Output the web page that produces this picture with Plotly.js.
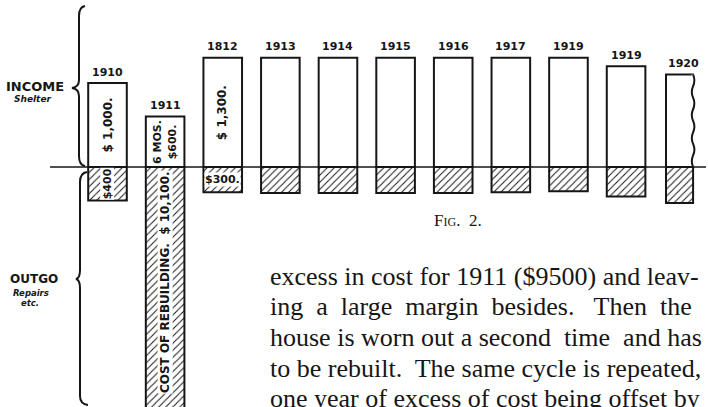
<!DOCTYPE html>
<html>
<head>
<meta charset="utf-8">
<script src="https://cdn.plot.ly/plotly-3.0.1.min.js"></script>
<style>html,body{margin:0;padding:0;background:#fff;}#chart{width:708px;height:407px;}</style>
</head>
<body>
<div id="chart"></div>
<script>
// ---- data ----
const years = [1910, 1911, 1912, 1913, 1914, 1915, 1916, 1917, 1918, 1919, 1920];
const yearLabels = ['1910', '1911', '1812', '1913', '1914', '1915', '1916', '1917', '1919', '1919', '1920'];
const income = [1000, 600, 1300, 1300, 1300, 1300, 1300, 1300, 1300, 1200, 1100];   // "Shelter"
const outgo = [400, 10100, 300, 310, 310, 310, 310, 300, 290, 350, 430];            // "Repairs etc."
const incomeText = ['<b>$ 1,000.</b>', '<b>6 MOS.<br>$600.</b>', '<b>$ 1,300.</b>', '', '', '', '', '', '', '', ''];
const outgoText = ['<b>$400</b>', '', '<b>$300.</b>', '', '', '', '', '', '', '', ''];
const rebuildText = '<b>COST OF REBUILDING.  $ 10,100.</b>';
const NB = '\u00A0';
const bodyLines = [
  'excess in cost for 1911 ($9500) and leav-',
  'ing' + NB + ' a' + NB + ' large' + NB + ' margin' + NB + ' besides.' + NB + NB + ' Then' + NB + ' the',
  'house is worn out a second' + NB + ' time' + NB + ' and has',
  'to be rebuilt.  The same cycle is repeated,',
  'one year of excess of cost being offset by'
];

// ---- layout constants ----
const W = 708, H = 407;
const pxPerYear = 57.62, firstCenter = 107.5;
const x0 = years[0] - firstCenter / pxPerYear;
const x1 = x0 + W / pxPerYear;
const pxPerDollar = 0.084, zeroPx = 167;
const yTop = zeroPx / pxPerDollar, yBot = -(H - zeroPx) / pxPerDollar;
const ink = '#161616';
const last = years.length - 1;
const barW = years.map((y, i) => i === last ? 0.47 : 0.67);
const barOff = years.map((y, i) => i === last ? -0.307 : -barW[i] / 2);
const handFont = {family: 'DejaVu Sans', size: 11, color: ink};
const F = (o) => Object.assign({}, handFont, o);

const incomeTrace = {
  type: 'bar', x: years, y: income, width: barW, offset: barOff,
  marker: {color: '#ffffff', line: {color: ink, width: 2}},
  hoverinfo: 'skip', cliponaxis: true
};
const outgoTrace = {
  type: 'bar', x: years, y: outgo.map(v => -v), width: barW, offset: barOff,
  marker: {color: '#ffffff', line: {color: ink, width: 2},
    pattern: {shape: '/', fgcolor: ink, bgcolor: '#ffffff', size: 5, solidity: 0.2}},
  hoverinfo: 'skip', cliponaxis: true
};

const px = x => x / W, py = y => 1 - y / H;
function pathPx(cmds) {
  return cmds.map(c => c[0] + ' ' + c.slice(1).map((v, k) => k % 2 === 0 ? px(v).toFixed(5) : py(v).toFixed(5)).join(' ')).join(' ');
}
const braceTop = pathPx([['M', 85, 6], ['Q', 79, 7, 79, 16], ['L', 79, 80], ['Q', 79, 87, 72, 88], ['Q', 79, 89, 79, 96], ['L', 79, 156], ['Q', 79, 165, 85, 166]]);
const braceBot = pathPx([['M', 87, 172], ['Q', 80, 173, 80, 182], ['L', 80, 270], ['Q', 80, 278, 76, 279], ['Q', 80, 280, 80, 288], ['L', 80, 396], ['Q', 80, 404, 88, 405]]);

// torn (wavy) right edge of the last income bar, built from the bar geometry
const edgeX = years[last] + barOff[last] + barW[last];
const waveAmp = 0.045, nWaves = 8;
let wave = 'M ' + edgeX + ' ' + income[last];
for (let k = 0; k < nWaves; k++) {
  const ya = income[last] * (1 - (k + 0.5) / nWaves), yb = income[last] * (1 - (k + 1) / nWaves);
  const dir = k % 2 === 0 ? 1 : -1;
  wave += ' Q ' + (edgeX + dir * waveAmp) + ' ' + ya + ' ' + edgeX + ' ' + yb;
}

const shapes = [
  {type: 'line', xref: 'x', yref: 'y', x0: edgeX, x1: edgeX, y0: income[last], y1: 0, line: {color: '#ffffff', width: 3}, layer: 'above'},
  {type: 'path', xref: 'x', yref: 'y', path: wave, line: {color: ink, width: 2}, layer: 'above'},
  {type: 'line', xref: 'paper', yref: 'y', x0: px(50), x1: px(706), y0: 0, y1: 0, line: {color: ink, width: 1.6}, layer: 'above'},
  {type: 'path', xref: 'paper', yref: 'paper', path: braceTop, line: {color: ink, width: 2}},
  {type: 'path', xref: 'paper', yref: 'paper', path: braceBot, line: {color: ink, width: 2}}
];

const annotations = [];
years.forEach((yr, i) => {
  annotations.push({x: yr, y: income[i], xref: 'x', yref: 'y', text: '<b>' + yearLabels[i] + '</b>',
    showarrow: false, xanchor: 'center', yanchor: 'middle', yshift: 11, font: F({size: 11})});
  if (incomeText[i]) annotations.push({x: yr, y: income[i] / 2, xref: 'x', yref: 'y', text: incomeText[i],
    showarrow: false, xanchor: 'center', yanchor: 'middle', textangle: -90, font: F({size: i === 1 ? 11 : 12})});
  if (outgoText[i]) annotations.push({x: yr, y: -Math.min(outgo[i], 600) / 2, xref: 'x', yref: 'y', text: outgoText[i],
    showarrow: false, xanchor: 'center', yanchor: 'middle', textangle: i === 0 ? -90 : 0, bgcolor: '#ffffff', borderpad: 0,
    font: F({size: 11})});
});
annotations.push({x: years[1], y: 0, xref: 'x', yref: 'y', text: rebuildText, showarrow: false,
  textangle: -90, xanchor: 'center', yanchor: 'top', yshift: -3, bgcolor: '#ffffff', borderpad: 0,
  font: F({size: 12})});

// side labels
const side = (x, y, text, size) => annotations.push({x: px(x), y: py(y), xref: 'paper', yref: 'paper', text: text,
  showarrow: false, xanchor: 'center', yanchor: 'middle', font: F({size: size})});
side(35, 87, '<b>INCOME</b>', 13);
side(32, 99, '<b><i>Shelter</i></b>', 9);
side(34, 279, '<b>OUTGO</b>', 12);
side(31, 293, '<b><i>Repairs</i></b>', 8.5);
side(30, 303, '<b><i>etc.</i></b>', 8.5);

// caption and body text
annotations.push({x: px(458), y: py(220), xref: 'paper', yref: 'paper',
  text: 'F<span style="font-size:12px">IG</span>.' + NB + NB + '2.', showarrow: false,
  xanchor: 'center', yanchor: 'middle', font: {family: 'Liberation Serif', size: 17, color: ink}});
bodyLines.forEach((t, k) => {
  annotations.push({x: px(268), y: py(276 + k * 30.7), xref: 'paper', yref: 'paper', text: t,
    showarrow: false, xanchor: 'left', yanchor: 'middle',
    font: {family: 'Liberation Serif', size: 26, color: ink}});
});

const layout = {
  width: W, height: H, margin: {l: 0, r: 0, t: 0, b: 0},
  paper_bgcolor: '#ffffff', plot_bgcolor: '#ffffff',
  showlegend: false, barmode: 'overlay',
  xaxis: {range: [x0, x1], visible: false, fixedrange: true},
  yaxis: {range: [yBot, yTop], visible: false, fixedrange: true},
  shapes: shapes, annotations: annotations
};
Plotly.newPlot('chart', [incomeTrace, outgoTrace], layout, {displayModeBar: false, staticPlot: true});
</script>
</body>
</html>
